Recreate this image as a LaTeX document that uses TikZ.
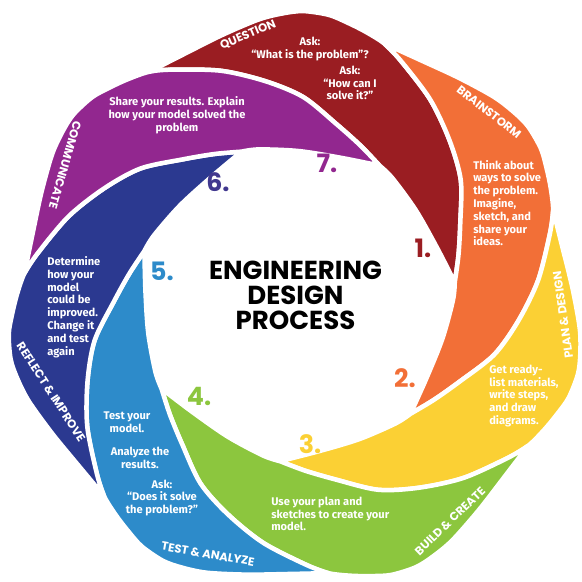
\documentclass[tikz,border=0pt]{standalone}
\usepackage{fontspec}
\setmainfont{Fira Sans}
\newfontfamily\headfont{Poppins}
\usetikzlibrary{calc}

\definecolor{edpRed}{HTML}{9A1D22}
\definecolor{edpOrange}{HTML}{F26F37}
\definecolor{edpYellow}{HTML}{FBD034}
\definecolor{edpGreen}{HTML}{8CC63E}
\definecolor{edpBlue}{HTML}{2D8BCA}
\definecolor{edpNavy}{HTML}{2B3990}
\definecolor{edpIndigo}{HTML}{41388F}
\definecolor{edpPurple}{HTML}{92278F}

\begin{document}
\begin{tikzpicture}[
        x=0.025cm, y=0.025cm,
        petal/.style={draw=white, line width=3.2pt, line join=round},
        title/.style={font=\headfont\bfseries\fontsize{18.5}{17.8}\selectfont, align=center, inner sep=0pt},
        stage/.style={font=\headfont\bfseries\fontsize{8.3}{9}\selectfont, text=white, inner sep=0pt},
        body/.style={font=\bfseries\fontsize{7.9}{9.1}\selectfont, text=white, align=left, inner sep=0pt},
        bodyc/.style={body, align=center},
        num/.style={font=\headfont\bfseries\fontsize{18}{18}\selectfont, inner sep=0pt}
    ]
        \useasboundingbox (-296,-279) rectangle (286,302);

        % --- Blätter (je 360/7 Grad gedreht) ---
        \foreach \ang/\col in {122.5/edpRed, 71.07/edpOrange, 19.64/edpYellow, -31.79/edpGreen,
                               -83.22/edpBlue, -134.65/edpNavy, -186.08/edpPurple} {
            \begin{scope}[rotate=\ang]
                % aussen: Buckel, dann nach innen bis zur Spitze
                \filldraw[petal, fill=\col]
                    plot[smooth] coordinates {(0:273) (-8:272) (-17:277) (-25:285) (-30:289) (-34:291) (-39:289)
                        (-43:284) (-47:279) (-51.43:273) (-56:263) (-66:243) (-76:223) (-86:205) (-97:182)
                        (-106.5:169) (-115.4:160)}
                    % innen: am Mittelkreis entlang
                    -- plot[smooth] coordinates {(-115.4:160) (-101:151) (-85:151) (-70.4:157) (-63.97:160)}
                    % innen: entlang dem vorigen Blatt
                    -- plot[smooth] coordinates {(-63.97:160) (-55.07:169) (-45.57:182) (-34.57:205) (-24.57:223)
                        (-14.57:243) (-4.57:263) (0:273)}
                    -- cycle;
            \end{scope}
        }

        % --- Titel ---
        \node[title] (ttl) at (-0.5,7) {ENGINEERING\\DESIGN\\PROCESS};

        % --- Phasen ---
        \node[stage, rotate=23] (lq) at (-48,267) {QUESTION};
        \node[stage, rotate=-38] (lb) at (193,190) {BRAINSTORM};
        \node[stage, rotate=98] (lp) at (267,-13) {PLAN \& DESIGN};
        \node[stage, rotate=44] (lc) at (154,-219) {BUILD \& CREATE};
        \node[stage, rotate=-10] (lt) at (-88,-252) {TEST \& ANALYZE};
        \node[stage, rotate=-57] (lr) at (-245,-90) {REFLECT \& IMPROVE};
        \node[stage, rotate=-106] (lm) at (-231,137) {COMMUNICATE};

        % --- Nummern ---
        \node[num, text=edpRed] (n1) at (127,54) {1.};
        \node[num, text=edpOrange] (n2) at (109,-76) {2.};
        \node[num, text=edpYellow] (n3) at (14,-142) {3.};
        \node[num, text=edpGreen] (n4) at (-97,-94) {4.};
        \node[num, text=edpBlue] (n5) at (-134,31) {5.};
        \node[num, text=edpIndigo] (n6) at (-78,120) {6.};
        \node[num, text=edpPurple] (n7) at (31,139) {7.};

        % --- Texte ---
        \node[bodyc] (askA) at (14,253) {Ask:\\“What is the problem”?};
        \node[bodyc] (askB) at (54,219) {Ask:\\“How can I\\solve it?”};
        \node[body, anchor=west] (think) at (177,99) {Think about\\ways to solve\\the problem.\\Imagine,\\sketch, and\\share your\\ideas.};
        \node[body, anchor=west] (ready) at (193,-94) {Get ready-\\list materials,\\write steps,\\and draw\\diagrams.};
        \node[body, anchor=west] (useplan) at (-25,-212) {Use your plan and\\sketches to create your\\model.};
        \node[bodyc] (testit) at (-169,-120) {Test your\\model.};
        \node[bodyc] (analyze) at (-156,-156) {Analyze the\\results.};
        \node[bodyc] (askC) at (-134,-196) {Ask:\\“Does it solve\\the problem?”};
        \node[body, anchor=west] (determine) at (-249,-5) {Determine\\how your\\model\\could be\\improved.\\Change it\\and test\\again};
        \node[bodyc] (share) at (-119,187) {Share your results. Explain\\how your model solved the\\problem};
    \end{tikzpicture}
\end{document}
